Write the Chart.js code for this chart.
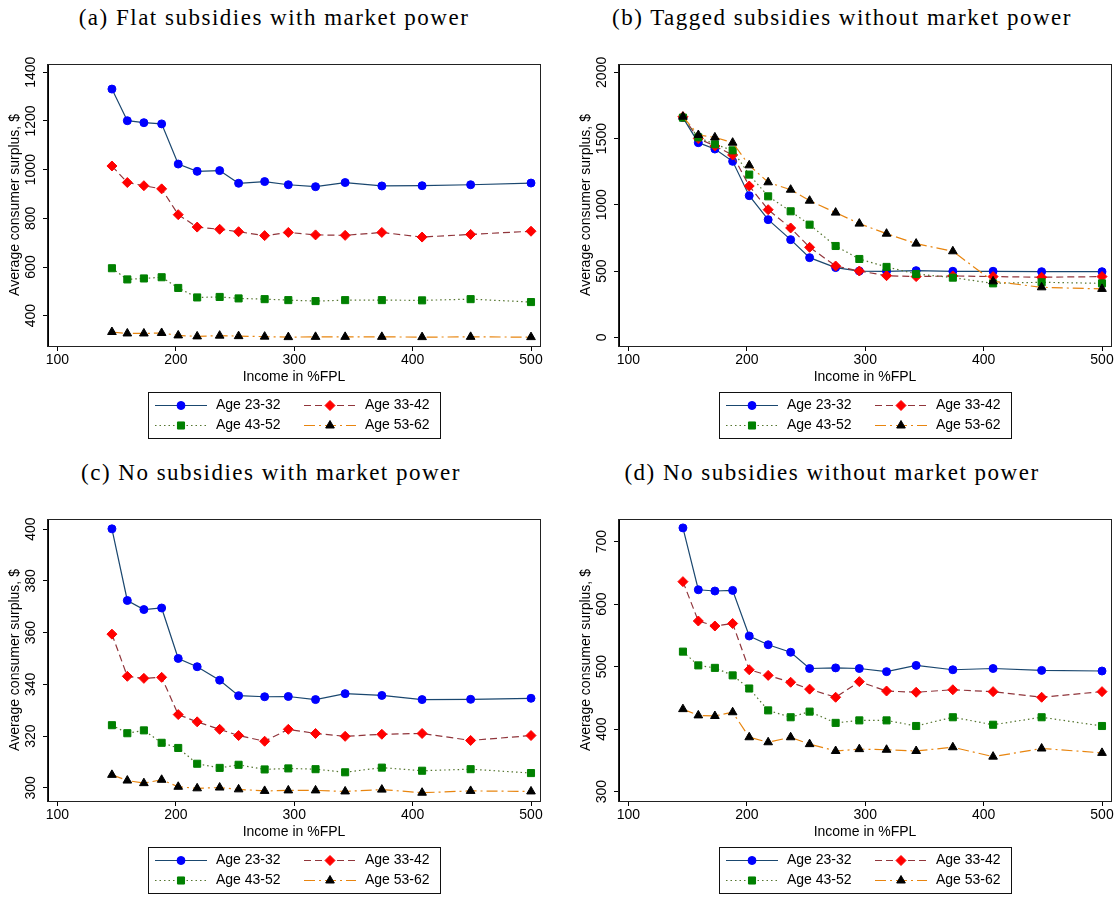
<!DOCTYPE html>
<html>
<head>
<meta charset="utf-8">
<script src="https://cdn.jsdelivr.net/npm/chart.js@4.4.1/dist/chart.umd.min.js"></script>
<style>
  body { margin: 0; background: #fff; width: 1119px; height: 897px; position: relative; overflow: hidden; }
  .panel { position: absolute; }
  .ttl { position: absolute; font-family: "Liberation Serif", serif; font-size: 23px; line-height: 23px; letter-spacing: 1.5px;
         white-space: nowrap; transform: translateX(-50%); color: #000; }
</style>
</head>
<body>
<div class="ttl" style="left:274px;top:6px">(a) Flat subsidies with market power</div>
<div class="ttl" style="left:842px;top:6px">(b) Tagged subsidies without market power</div>
<div class="ttl" style="left:271px;top:461px">(c) No subsidies with market power</div>
<div class="ttl" style="left:832px;top:461px">(d) No subsidies without market power</div>

<div class="panel" style="left:0;top:0"><canvas id="chartA" width="560" height="442"></canvas></div>
<div class="panel" style="left:560px;top:0"><canvas id="chartB" width="559" height="442"></canvas></div>
<div class="panel" style="left:0;top:455px"><canvas id="chartC" width="560" height="442"></canvas></div>
<div class="panel" style="left:560px;top:455px"><canvas id="chartD" width="559" height="442"></canvas></div>

<script>
// income bins (x axis) and age groups
var incomeFPL = [146, 159, 173, 188, 202, 218, 237, 253, 275, 295, 318, 343, 374, 408, 449, 500];
var ageGroups = ['Age 23-32', 'Age 33-42', 'Age 43-52', 'Age 53-62'];
var xTicks = [100, 200, 300, 400, 500];

// (a) flat subsidies with market power
var flatMP_23 = [1331, 1201, 1193, 1188, 1023, 993, 996, 944, 951, 938, 930, 947, 933, 934, 938, 945];
var flatMP_33 = [1015, 947, 934, 921, 815, 764, 755, 745, 729, 742, 732, 730, 742, 723, 734, 747];
var flatMP_43 = [595, 549, 553, 558, 514, 475, 477, 471, 468, 464, 460, 464, 464, 463, 468, 456];
var flatMP_53 = [333, 327, 327, 329, 319, 315, 318, 316, 314, 312, 313, 313, 313, 312, 313, 312];
var flatMP_yTicks = [400, 600, 800, 1000, 1200, 1400];

// (b) tagged subsidies without market power
var taggedNoMP_23 = [1658, 1469, 1421, 1328, 1069, 888, 737, 601, 526, 500, 498, 503, 498, 498, 495, 495];
var taggedNoMP_33 = [1665, 1500, 1444, 1376, 1142, 963, 825, 679, 538, 500, 465, 458, 463, 458, 453, 458];
var taggedNoMP_43 = [1658, 1509, 1457, 1411, 1228, 1064, 951, 850, 689, 591, 531, 478, 450, 407, 415, 407];
var taggedNoMP_53 = [1665, 1527, 1509, 1469, 1298, 1170, 1114, 1031, 941, 858, 782, 707, 649, 422, 377, 365];
var taggedNoMP_yTicks = [0, 500, 1000, 1500, 2000];

// (c) no subsidies with market power
var noSubMP_23 = [400.1, 372.4, 368.9, 369.5, 350.0, 346.8, 341.6, 335.6, 335.2, 335.3, 334.1, 336.4, 335.7, 334.1, 334.2, 334.6];
var noSubMP_33 = [359.4, 343.1, 342.3, 342.7, 328.3, 325.5, 322.6, 320.2, 318.0, 322.6, 321.0, 319.9, 320.7, 321.0, 318.3, 320.2];
var noSubMP_43 = [324.2, 321.1, 322.2, 317.4, 315.4, 309.3, 307.7, 308.9, 307.1, 307.5, 307.2, 306.0, 307.8, 306.6, 307.2, 305.7];
var noSubMP_53 = [305.0, 302.8, 301.8, 303.1, 300.4, 299.8, 300.1, 299.4, 298.8, 299.0, 299.0, 298.6, 299.3, 298.1, 298.8, 298.6];
var noSubMP_yTicks = [300, 320, 340, 360, 380, 400];

// (d) no subsidies without market power
var noSubNoMP_23 = [722, 623, 621, 622, 549, 535, 523, 497, 498, 497, 492, 502, 495, 497, 494, 493];
var noSubNoMP_33 = [636, 573, 565, 569, 495, 486, 475, 464, 451, 476, 461, 459, 463, 460, 451, 460];
var noSubNoMP_43 = [524, 502, 498, 486, 465, 430, 419, 428, 410, 414, 414, 405, 419, 407, 419, 405];
var noSubNoMP_53 = [432, 422, 421, 427, 387, 379, 387, 376, 365, 368, 367, 365, 371, 356, 369, 362];
var noSubNoMP_yTicks = [300, 400, 500, 600, 700];

// look of each age line (stata-like)
var ageStyles = [
    { line: '#1a476f', mark: '#0000ff', dash: [], point: 'circle', r: 4 },
    { line: '#90353b', mark: '#ff0000', dash: [7, 4], point: 'rectRot', r: 5 },
    { line: '#55752f', mark: '#008000', dash: [1.5, 3], point: 'rect', r: 5 },
    { line: '#e8850f', mark: '#000000', dash: [11, 4, 2, 4], point: 'triangle', r: 5 }
];

var txtFont = { family: '"Liberation Sans", Arial, sans-serif', size: 14 };

// black box round the plot region
var framePlugin = {
    id: 'frame',
    afterDraw: function(chart) {
        var a = chart.chartArea, ctx = chart.ctx;
        ctx.save();
        ctx.lineWidth = 1;
        ctx.strokeStyle = '#222';
        ctx.strokeRect(Math.round(a.left) - 0.5, Math.round(a.top) + 0.5, Math.round(a.right - a.left) + 1, Math.round(a.bottom - a.top));
        ctx.restore();
    }
};

// legend in a box under the x axis, two columns
var boxLegend = {
    id: 'boxLegend',
    afterDraw: function(chart) {
        var a = chart.chartArea, ctx = chart.ctx;
        var w = 292, h = 46;
        var bx = Math.round((a.left + a.right) / 2 - w / 2) + 0.5;
        var by = Math.round(a.bottom) + 46.5;
        ctx.save();
        ctx.strokeStyle = '#111';
        ctx.lineWidth = 1;
        ctx.strokeRect(bx, by, w, h);
        ctx.font = '14px "Liberation Sans", Arial, sans-serif';
        ctx.textBaseline = 'middle';
        chart.data.datasets.forEach(function(ds, i) {
            var col = i % 2, row = Math.floor(i / 2);
            var x0 = bx + 6.5 + col * 149, y = by + 13 + row * 20;
            ctx.save();
            ctx.strokeStyle = ds.borderColor;
            ctx.lineWidth = ds.borderWidth;
            ctx.setLineDash(ds.borderDash);
            ctx.beginPath();
            ctx.moveTo(x0, y);
            ctx.lineTo(x0 + 52, y);
            ctx.stroke();
            ctx.restore();
            ctx.fillStyle = ds.pointBackgroundColor;
            ctx.strokeStyle = ds.pointBorderColor;
            Chart.helpers.drawPoint(ctx, { pointStyle: ds.pointStyle, radius: ds.pointRadius, borderWidth: 1, rotation: 0 }, x0 + 26, y);
            ctx.fillStyle = '#000';
            ctx.fillText(ds.label, x0 + 61, y);
        });
        ctx.restore();
    }
};

function makeDatasets(seriesList) {
    return seriesList.map(function(values, i) {
        var st = ageStyles[i];
        return {
            label: ageGroups[i],
            data: incomeFPL.map(function(x, k) { return { x: x, y: values[k] }; }),
            borderColor: st.line,
            borderWidth: 1.2,
            borderDash: st.dash,
            pointStyle: st.point,
            pointRadius: st.r,
            pointBackgroundColor: st.mark,
            pointBorderColor: st.mark,
            pointBorderWidth: 1,
            tension: 0,
            order: 3 - i
        };
    });
}

function makeChart(canvasId, seriesList, yMin, yMax, yTicks, padLeft, padRight, tickPad) {
    var ctx = document.getElementById(canvasId).getContext('2d');
    return new Chart(ctx, {
        type: 'line',
        data: { datasets: makeDatasets(seriesList) },
        options: {
            responsive: false,
            animation: false,
            events: [],
            layout: { padding: { top: 64, bottom: 56, left: padLeft, right: padRight } },
            plugins: { legend: { display: false }, title: { display: false }, tooltip: { enabled: false } },
            scales: {
                x: {
                    type: 'linear',
                    min: 92,
                    max: 507.6,
                    afterBuildTicks: function(s) { s.ticks = xTicks.map(function(v) { return { value: v }; }); },
                    afterFit: function(s) { s.height = 40; },
                    ticks: { maxRotation: 0, padding: 1, color: '#000', font: txtFont, callback: function(v) { return String(v); } },
                    grid: { drawOnChartArea: false, tickLength: 5, color: '#000' },
                    border: { color: '#000' },
                    title: { display: true, text: 'Income in %FPL', color: '#000', font: txtFont, padding: { top: 0, bottom: 0 } }
                },
                y: {
                    type: 'linear',
                    min: yMin,
                    max: yMax,
                    afterBuildTicks: function(s) { s.ticks = yTicks.map(function(v) { return { value: v }; }); },
                    afterFit: function(s) { s.width = 48; },
                    ticks: { minRotation: 90, maxRotation: 90, crossAlign: 'center', padding: tickPad, color: '#000', font: txtFont,
                             callback: function(v) { return String(v); } },
                    grid: { drawOnChartArea: false, tickLength: 5, color: '#000' },
                    border: { color: '#000' },
                    title: { display: true, text: 'Average consumer surplus, $', color: '#000', font: txtFont, padding: { top: 7, bottom: 0 } }
                }
            }
        },
        plugins: [framePlugin, boxLegend]
    });
}

makeChart('chartA', [flatMP_23, flatMP_33, flatMP_43, flatMP_53], 275.5, 1434, flatMP_yTicks, 0, 20, -4);
makeChart('chartB', [taggedNoMP_23, taggedNoMP_33, taggedNoMP_43, taggedNoMP_53], -66, 2063, taggedNoMP_yTicks, 11, 8, -4);
makeChart('chartC', [noSubMP_23, noSubMP_33, noSubMP_43, noSubMP_53], 294.9, 403.9, noSubMP_yTicks, 0, 20, 0);
makeChart('chartD', [noSubNoMP_23, noSubNoMP_33, noSubNoMP_43, noSubNoMP_53], 285, 736.2, noSubNoMP_yTicks, 11, 8, 0);
</script>
</body>
</html>
